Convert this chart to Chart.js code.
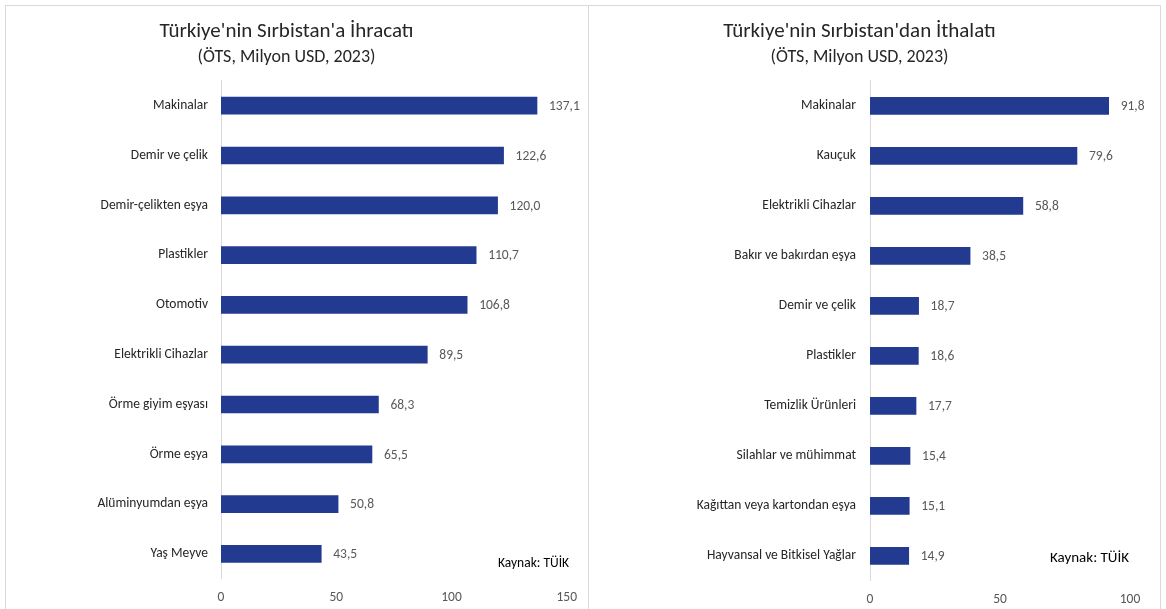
<!DOCTYPE html>
<html>
<head>
<meta charset="utf-8">
<script src="https://cdn.jsdelivr.net/npm/chart.js@4.4.1/dist/chart.umd.min.js"></script>
<style>
  html, body { margin:0; padding:0; background:#fff; width:1166px; height:609px; overflow:hidden; }
  .panel { position:absolute; border:1px solid #d9d9d9; background:#fff; box-sizing:border-box; }
  .panel canvas { position:absolute; left:0; top:0; }
  .src { position:absolute; font-family: Carlito, Lato, sans-serif; color:#000; white-space:nowrap; }
</style>
</head>
<body>
<div class="panel" id="p1" style="left:5px; top:5px; width:584px; height:640px;">
  <canvas id="c1" width="582" height="617" style="width:582px;height:617px;"></canvas>
</div>
<div class="panel" id="p2" style="left:588px; top:5px; width:573px; height:640px;">
  <canvas id="c2" width="571" height="619" style="width:571px;height:619px;"></canvas>
</div>
<div class="src" style="left:498px; top:554px; font-size:13.5px;">Kaynak: TÜİK</div>
<div class="src" style="left:1050px; top:548px; font-size:15px;">Kaynak: TÜİK</div>
<script>
const expTitle = "Türkiye'nin Sırbistan'a İhracatı";
const impTitle = "Türkiye'nin Sırbistan'dan İthalatı";
const subTitle = "(ÖTS, Milyon USD, 2023)";
const expLabels = ["Makinalar","Demir ve çelik","Demir-çelikten eşya","Plastikler","Otomotiv","Elektrikli Cihazlar","Örme giyim eşyası","Örme eşya","Alüminyumdan eşya","Yaş Meyve"];
const expValues = [137.1,122.6,120.0,110.7,106.8,89.5,68.3,65.5,50.8,43.5];
const impLabels = ["Makinalar","Kauçuk","Elektrikli Cihazlar","Bakır ve bakırdan eşya","Demir ve çelik","Plastikler","Temizlik Ürünleri","Silahlar ve mühimmat","Kağıttan veya kartondan eşya","Hayvansal ve Bitkisel Yağlar"];
const impValues = [91.8,79.6,58.8,38.5,18.7,18.6,17.7,15.4,15.1,14.9];
const expTicks = [0,50,100,150];
const impTicks = [0,50,100];

const FONT = "Carlito, Lato, sans-serif";
const BAR = '#233a91';

const valueLabels = {
  id:'valueLabels',
  afterDatasetsDraw(chart){
    const ctx = chart.ctx;
    ctx.save();
    ctx.font = '13.5px ' + FONT;
    ctx.fillStyle = '#595959';
    ctx.textBaseline = 'middle';
    ctx.textAlign = 'left';
    const meta = chart.getDatasetMeta(0);
    meta.data.forEach((el,i)=>{
      const v = chart.data.datasets[0].data[i];
      ctx.fillText(v.toFixed(1).replace('.',','), el.x + 12, el.y + 1);
    });
    ctx.restore();
  }
};

function makeChart(id, title, labels, values, ticks, yWidth, padRight, tickPad){
  return new Chart(document.getElementById(id), {
    type:'bar',
    data:{ labels: labels, datasets:[{ data: values, backgroundColor: BAR, barThickness: 17 }] },
    options:{
      indexAxis:'y',
      responsive:false,
      animation:false,
      layout:{ padding:{ left:0, right:padRight, top:0, bottom:6 } },
      plugins:{
        legend:{ display:false },
        tooltip:{ enabled:false },
        title:{ display:true, text:title, color:'#262626', font:{ family:FONT, size:21, weight:'normal' }, padding:{ top:13, bottom:0 } },
        subtitle:{ display:true, text:subTitle, color:'#262626', font:{ family:FONT, size:18, weight:'normal' }, padding:{ top:2, bottom:13 } }
      },
      scales:{
        x:{
          min: ticks[0], max: ticks[ticks.length-1],
          afterBuildTicks(scale){ scale.ticks = ticks.map(v=>({value:v})); },
          grid:{ display:false, drawTicks:false },
          border:{ display:false },
          ticks:{ color:'#595959', font:{ family:FONT, size:13.5 }, padding:11 }
        },
        y:{
          afterFit(scale){ scale.width = yWidth; },
          grid:{ display:false, drawTicks:false },
          border:{ display:true, color:'#d9d9d9', width:1 },
          ticks:{ color:'#262626', font:{ family:FONT, size:13.5 }, padding:tickPad, autoSkip:false }
        }
      }
    },
    plugins:[valueLabels]
  });
}

makeChart('c1', expTitle, expLabels, expValues, expTicks, 215, 21, 13);
makeChart('c2', impTitle, impLabels, impValues, impTicks, 281, 30, 14);
</script>
</body>
</html>
